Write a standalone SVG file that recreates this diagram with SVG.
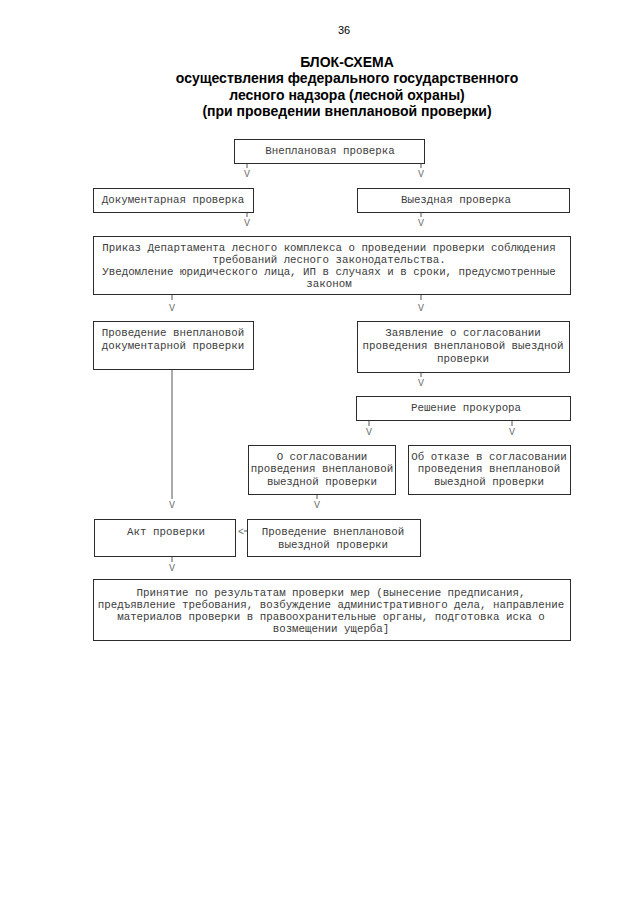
<svg xmlns="http://www.w3.org/2000/svg" width="640" height="905" viewBox="0 0 640 905">
<style>
.bg{fill:#fff}
.box{fill:none;stroke:#2b2b2b;stroke-width:1}
.t{font-family:"Liberation Mono","Courier New",monospace;font-size:10.8px;fill:#3c3c3c;text-anchor:middle}
.v{font-family:"Liberation Mono","Courier New",monospace;font-size:10px;fill:#707070;text-anchor:middle}
.ln{stroke:#555;stroke-width:1;fill:none}
.h{font-family:"Liberation Sans",Arial,sans-serif;font-weight:bold;font-size:14px;fill:#000;text-anchor:middle}
.pn{font-family:"Liberation Sans",Arial,sans-serif;font-size:11px;fill:#000;text-anchor:middle}
</style>
<rect class="bg" x="0" y="0" width="640" height="905"/>
<g id="header">
<text class="pn" x="344" y="34">36</text>
<text class="h" x="347" y="67">БЛОК-СХЕМА</text>
<text class="h" x="347" y="83">осуществления федерального государственного</text>
<text class="h" x="347" y="100">лесного надзора (лесной охраны)</text>
<text class="h" x="347" y="116">(при проведении внеплановой проверки)</text>
</g>
<g id="connectors">
<line class="ln" x1="247" y1="163" x2="247" y2="168"/><text class="v" x="247" y="177">V</text>
<line class="ln" x1="421" y1="163" x2="421" y2="168"/><text class="v" x="421" y="177">V</text>
<line class="ln" x1="247" y1="212" x2="247" y2="217"/><text class="v" x="247" y="226">V</text>
<line class="ln" x1="421" y1="212" x2="421" y2="217"/><text class="v" x="421" y="226">V</text>
<line class="ln" x1="172" y1="294" x2="172" y2="300"/><text class="v" x="172" y="311">V</text>
<line class="ln" x1="421" y1="294" x2="421" y2="300"/><text class="v" x="421" y="311">V</text>
<line class="ln" x1="421" y1="372" x2="421" y2="377"/><text class="v" x="421" y="386">V</text>
<line class="ln" x1="369" y1="420" x2="369" y2="426"/><text class="v" x="369" y="435">V</text>
<line class="ln" x1="512" y1="420" x2="512" y2="426"/><text class="v" x="512" y="435">V</text>
<line class="ln" x1="172" y1="369" x2="172" y2="499"/><text class="v" x="172" y="508">V</text>
<line class="ln" x1="317" y1="494" x2="317" y2="499"/><text class="v" x="317" y="508">V</text>
<text class="v" x="241" y="535">&lt;</text><line class="ln" x1="244" y1="531" x2="247" y2="531"/>
<line class="ln" x1="172" y1="556" x2="172" y2="562"/><text class="v" x="172" y="571">V</text>
</g>
<g id="n1"><rect class="box" x="234.5" y="139.5" width="190" height="24"/><text class="t" x="330" y="154">Внеплановая проверка</text></g>
<g id="n2"><rect class="box" x="93.5" y="188.5" width="160" height="24"/><text class="t" x="173" y="203">Документарная проверка</text></g>
<g id="n3"><rect class="box" x="357.5" y="188.5" width="212" height="24"/><text class="t" x="456" y="203">Выездная проверка</text></g>
<g id="n4"><rect class="box" x="93.5" y="236.5" width="477" height="58"/>
<text class="t" x="329" y="251">Приказ Департамента лесного комплекса о проведении проверки соблюдения</text>
<text class="t" x="329" y="263">требований лесного законодательства.</text>
<text class="t" x="329" y="275">Уведомление юридического лица, ИП в случаях и в сроки, предусмотренные</text>
<text class="t" x="329" y="287">законом</text></g>
<g id="n5"><rect class="box" x="93.5" y="321.5" width="160" height="48"/>
<text class="t" x="173" y="336">Проведение внеплановой</text>
<text class="t" x="173" y="349">документарной проверки</text></g>
<g id="n6"><rect class="box" x="357.5" y="321.5" width="212" height="51"/>
<text class="t" x="463" y="336">Заявление о согласовании</text>
<text class="t" x="463" y="349">проведения внеплановой выездной</text>
<text class="t" x="463" y="362">проверки</text></g>
<g id="n7"><rect class="box" x="356.5" y="396.5" width="214" height="24"/><text class="t" x="466" y="411">Решение прокурора</text></g>
<g id="n8"><rect class="box" x="248.5" y="445.5" width="147" height="49"/>
<text class="t" x="322" y="460">О согласовании</text>
<text class="t" x="322" y="472">проведения внеплановой</text>
<text class="t" x="322" y="485">выездной проверки</text></g>
<g id="n9"><rect class="box" x="408.5" y="445.5" width="162" height="49"/>
<text class="t" x="489" y="460">Об отказе в согласовании</text>
<text class="t" x="489" y="472">проведения внеплановой</text>
<text class="t" x="489" y="485">выездной проверки</text></g>
<g id="n10"><rect class="box" x="94.5" y="519.5" width="141" height="37"/><text class="t" x="166" y="535">Акт проверки</text></g>
<g id="n11"><rect class="box" x="247.5" y="519.5" width="173" height="37"/>
<text class="t" x="333" y="535">Проведение внеплановой</text>
<text class="t" x="333" y="548">выездной проверки</text></g>
<g id="n12"><rect class="box" x="93.5" y="579.5" width="477" height="61"/>
<text class="t" x="331" y="596">Принятие по результатам проверки мер (вынесение предписания,</text>
<text class="t" x="331" y="608">предъявление требования, возбуждение административного дела, направление</text>
<text class="t" x="331" y="620">материалов проверки в правоохранительные органы, подготовка иска о</text>
<text class="t" x="331" y="632">возмещении ущерба]</text></g>
</svg>
